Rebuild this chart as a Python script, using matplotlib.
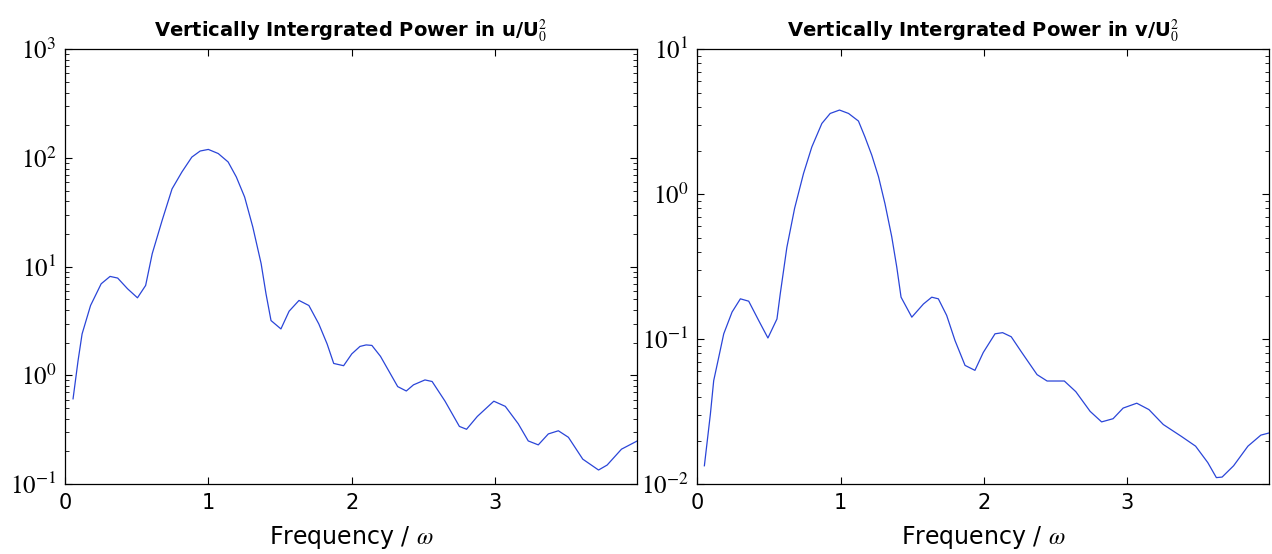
import matplotlib
matplotlib.use("Agg")
import matplotlib.pyplot as plt
from matplotlib.ticker import LogLocator, NullFormatter

# power in u / U0^2 (left panel)
freq_u = [0.057, 0.092, 0.12, 0.179, 0.253, 0.315, 0.368, 0.437, 0.506, 0.563,
          0.609, 0.678, 0.747, 0.816, 0.885, 0.943, 1.0, 1.069, 1.138, 1.195,
          1.253, 1.31, 1.368, 1.402, 1.437, 1.506, 1.563, 1.632, 1.701, 1.77,
          1.828, 1.874, 1.943, 2.0, 2.057, 2.10, 2.14, 2.2, 2.32, 2.38,
          2.43, 2.51, 2.56, 2.65, 2.75, 2.80, 2.875, 2.99, 3.07, 3.16,
          3.23, 3.30, 3.37, 3.44, 3.51, 3.61, 3.72, 3.78, 3.88, 3.99]
power_u = [0.61, 1.37, 2.41, 4.4, 6.97, 8.15, 7.87, 6.27, 5.18, 6.73,
           13.2, 26.7, 52, 74.5, 102, 116, 120, 110, 92, 67,
           43.8, 23.2, 10.7, 5.64, 3.2, 2.68, 3.9, 4.9, 4.4, 2.98,
           1.95, 1.29, 1.23, 1.58, 1.85, 1.91, 1.89, 1.5, 0.79, 0.72,
           0.82, 0.91, 0.88, 0.58, 0.34, 0.32, 0.42, 0.58, 0.52, 0.36,
           0.25, 0.23, 0.29, 0.31, 0.27, 0.17, 0.135, 0.15, 0.21, 0.25]

# power in v / U0^2 (right panel)
freq_v = [0.051, 0.093, 0.116, 0.151, 0.186, 0.244, 0.302, 0.36, 0.429, 0.494,
          0.557, 0.58, 0.626, 0.68, 0.742, 0.80, 0.87, 0.928, 0.993, 1.056,
          1.125, 1.17, 1.218, 1.265, 1.31, 1.357, 1.392, 1.422, 1.497, 1.578,
          1.636, 1.682, 1.74, 1.798, 1.868, 1.937, 1.995, 2.077, 2.13, 2.19,
          2.26, 2.37, 2.44, 2.56, 2.64, 2.74, 2.82, 2.90, 2.97, 3.065,
          3.15, 3.25, 3.375, 3.475, 3.56, 3.62, 3.66, 3.74, 3.84, 3.93, 3.99]
power_v = [0.0134, 0.0305, 0.0518, 0.075, 0.109, 0.154, 0.19, 0.183, 0.135, 0.102,
           0.138, 0.206, 0.43, 0.80, 1.39, 2.12, 3.08, 3.61, 3.81, 3.61,
           3.2, 2.49, 1.86, 1.32, 0.86, 0.51, 0.315, 0.195, 0.142, 0.175,
           0.195, 0.19, 0.146, 0.098, 0.066, 0.061, 0.081, 0.109, 0.111, 0.104,
           0.082, 0.057, 0.0515, 0.0515, 0.0435, 0.0318, 0.0269, 0.0283, 0.0335, 0.0362,
           0.0327, 0.0258, 0.0214, 0.0183, 0.0141, 0.0111, 0.0112, 0.0134, 0.0183, 0.0218, 0.0226]

plt.rcParams['mathtext.fontset'] = 'stix'

fig = plt.figure(figsize=(12.72, 5.54), dpi=100)
ax1 = fig.add_axes([0.051, 0.126, 0.450, 0.785])
ax2 = fig.add_axes([0.548, 0.126, 0.450, 0.785])

panels = [
    (ax1, freq_u, power_u, (0.1, 1000), 'u'),
    (ax2, freq_v, power_v, (0.01, 10), 'v'),
]

for ax, f, p, ylim, comp in panels:
    ax.plot(f, p, color='#2a45d8', lw=0.9)
    ax.set_yscale('log')
    ax.set_ylim(ylim)
    ax.set_xlim(0, 3.99)
    ax.set_xticks([0, 1, 2, 3])
    ax.set_xticklabels(['0', '1', '2', '3'], family='DejaVu Sans', fontsize=15)
    ax.yaxis.set_major_locator(LogLocator(base=10, numticks=10))
    ax.yaxis.set_minor_locator(LogLocator(base=10, subs=range(2, 10), numticks=20))
    ax.yaxis.set_minor_formatter(NullFormatter())
    for lab in ax.get_yticklabels():
        lab.set_fontsize(18)
        lab.set_family('STIXGeneral')
    ax.tick_params(which='both', direction='in', top=True, right=True)
    ax.tick_params(which='major', length=5, width=0.8, pad=6)
    ax.tick_params(which='minor', length=3, width=0.6)
    for s in ax.spines.values():
        s.set_linewidth(0.9)
    ax.set_xlabel(r'Frequency / $\omega$', fontsize=17, family='DejaVu Sans', labelpad=8)
    ax.set_title('Vertically Intergrated Power in ' + comp + r'/U$_0^2$',
                 fontsize=14, fontweight='bold', family='DejaVu Sans', pad=9)

fig.savefig('out.png', dpi=100)
